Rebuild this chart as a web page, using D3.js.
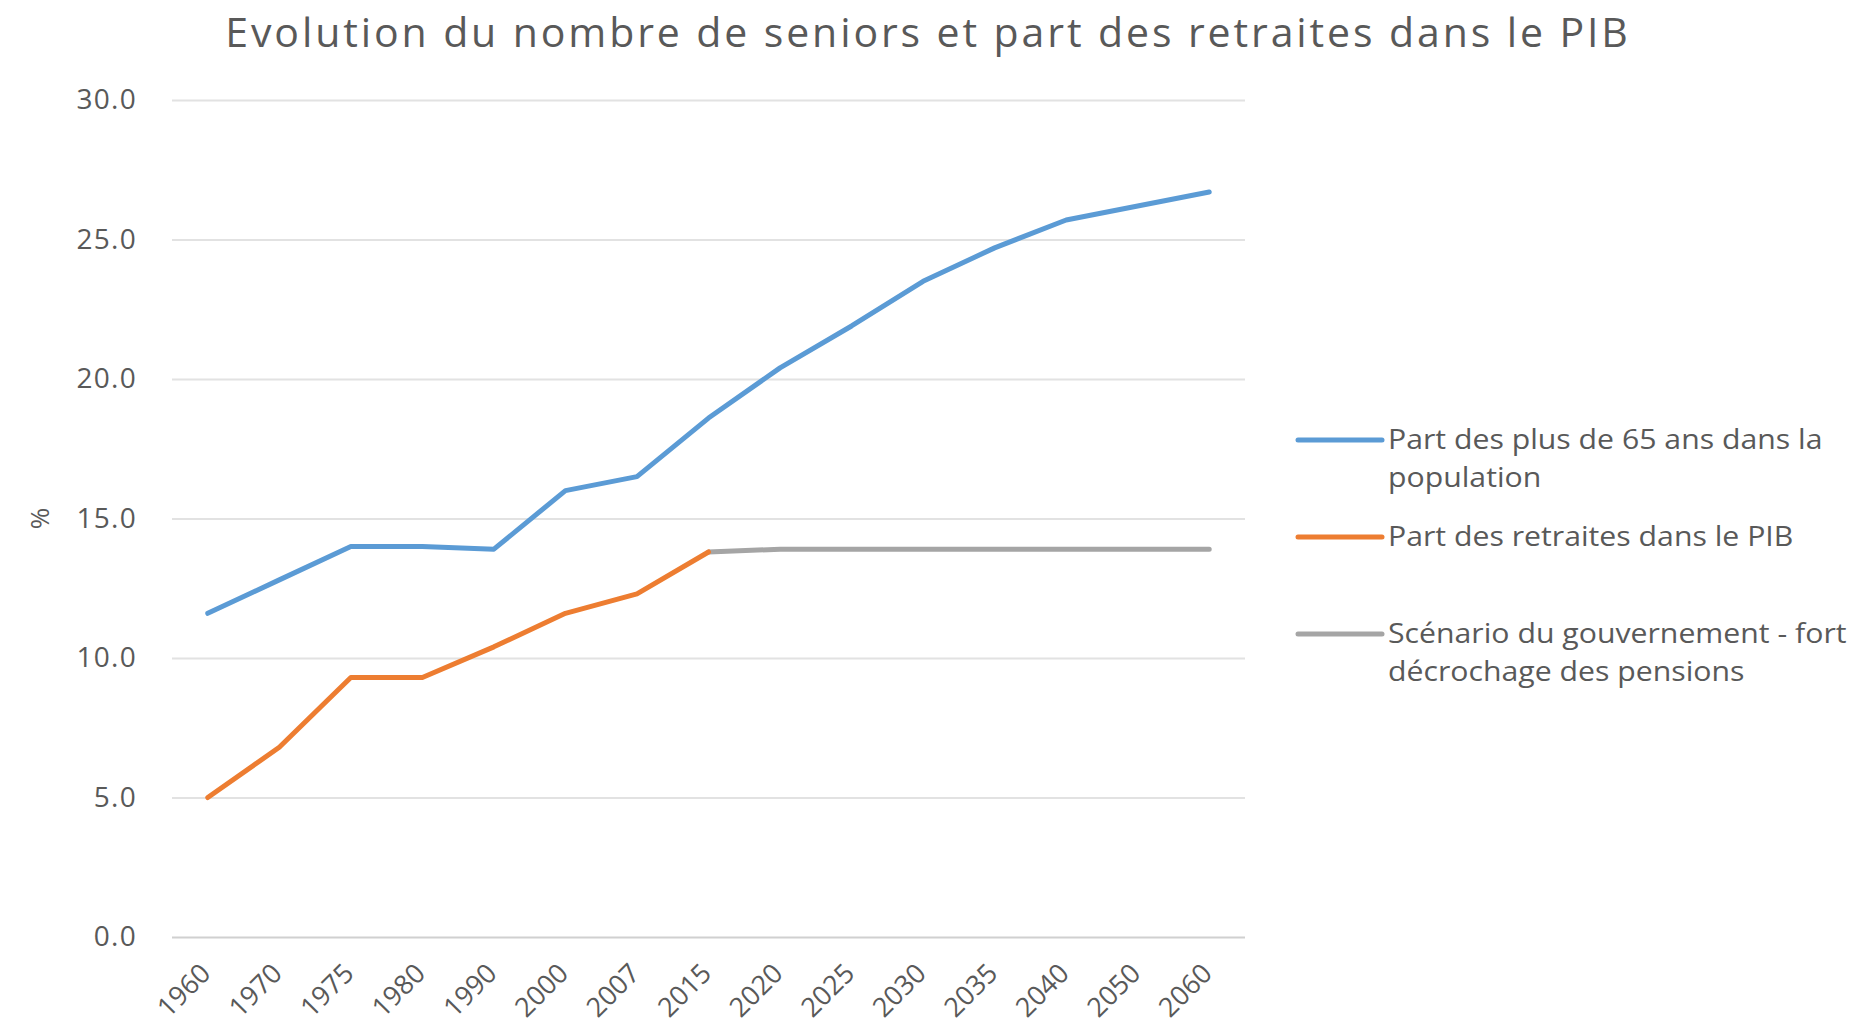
<!DOCTYPE html>
<html>
<head>
<meta charset="utf-8">
<script src="https://cdn.jsdelivr.net/npm/d3@7"></script>
<style>
  body { margin: 0; background: #fff; }
  svg text { font-family: "Open Sans", sans-serif; fill: #595959; }
</style>
</head>
<body>
<div id="chart"></div>
<script>
// data
var years = ["1960", "1970", "1975", "1980", "1990", "2000", "2007", "2015",
             "2020", "2025", "2030", "2035", "2040", "2050", "2060"];
var seniors = [11.6, 12.8, 14.0, 14.0, 13.9, 16.0, 16.5, 18.6,
               20.4, 21.9, 23.5, 24.7, 25.7, 26.2, 26.7];
var retraitesYears = ["1960", "1970", "1975", "1980", "1990", "2000", "2007", "2015"];
var retraites = [5.0, 6.8, 9.3, 9.3, 10.4, 11.6, 12.3, 13.8];
var scenarioYears = ["2015", "2020", "2025", "2030", "2035", "2040", "2050", "2060"];
var scenario = [13.8, 13.9, 13.9, 13.9, 13.9, 13.9, 13.9, 13.9];
var yTicks = [0, 5, 10, 15, 20, 25, 30];

var svgWidth = 1863;
var svgHeight = 1027;
var margin = { top: 100, right: 618, bottom: 90, left: 172 };
var width = svgWidth - margin.left - margin.right;
var height = svgHeight - margin.top - margin.bottom;

var svg = d3.select("#chart")
  .append("svg")
  .attr("width", svgWidth)
  .attr("height", svgHeight);

var chartGroup = svg.append("g")
  .attr("transform", `translate(${margin.left}, ${margin.top})`);

// scales
var xScale = d3.scalePoint()
  .domain(years)
  .range([0, width])
  .padding(0.5);

var yScale = d3.scaleLinear()
  .domain([0, 30])
  .range([height, 0]);

// gridlines + y labels
var leftAxis = d3.axisLeft(yScale)
  .tickValues(yTicks)
  .tickFormat(d3.format(".1f"))
  .tickSize(-width)
  .tickPadding(35);

var yAxis = chartGroup.append("g").call(leftAxis);
yAxis.select(".domain").remove();
yAxis.selectAll("line")
  .attr("stroke", d => d === 0 ? "#d0d0d0" : "#e2e2e2")
  .attr("stroke-width", 2);
yAxis.selectAll("text")
  .style("font-size", "28px")
  .style("letter-spacing", "1.3px")
  .style("fill", "#595959");

// x labels
var bottomAxis = d3.axisBottom(xScale).tickSize(0);
var xAxis = chartGroup.append("g")
  .attr("transform", `translate(0, ${height})`)
  .call(bottomAxis);
xAxis.select(".domain").remove();
xAxis.selectAll("text")
  .style("font-size", "27px")
  .style("fill", "#595959")
  .attr("text-anchor", "end")
  .attr("dy", null)
  .attr("y", 0)
  .attr("transform", "translate(4, 38) rotate(-45)");

// lines
var line = d3.line()
  .x(d => xScale(d[0]))
  .y(d => yScale(d[1]));

var series = [
  { name: "seniors", data: d3.zip(years, seniors), color: "#5b9bd5" },
  { name: "scenario", data: d3.zip(scenarioYears, scenario), color: "#a5a5a5" },
  { name: "retraites", data: d3.zip(retraitesYears, retraites), color: "#ed7d31" }
];

chartGroup.selectAll(".series")
  .data(series)
  .enter()
  .append("path")
  .attr("class", "series")
  .attr("d", d => line(d.data))
  .attr("fill", "none")
  .attr("stroke", d => d.color)
  .attr("stroke-width", 5)
  .attr("stroke-linejoin", "round")
  .attr("stroke-linecap", "round");

// title
svg.append("text")
  .attr("x", 928)
  .attr("y", 47)
  .attr("text-anchor", "middle")
  .style("font-size", "41px")
  .style("letter-spacing", "2.9px")
  .text("Evolution du nombre de seniors et part des retraites dans le PIB");

// y axis label
svg.append("text")
  .attr("transform", `translate(49, ${margin.top + height / 2}) rotate(-90)`)
  .attr("text-anchor", "middle")
  .style("font-size", "26px")
  .text("%");

// legend
var legendItems = [
  { color: "#5b9bd5", y: 440, lines: ["Part des plus de 65 ans dans la", "population"] },
  { color: "#ed7d31", y: 537, lines: ["Part des retraites dans le PIB"] },
  { color: "#a5a5a5", y: 634, lines: ["Scénario du gouvernement - fort", "décrochage des pensions"] }
];

var legend = svg.selectAll(".legend")
  .data(legendItems)
  .enter()
  .append("g")
  .attr("class", "legend")
  .attr("transform", d => `translate(1298, ${d.y})`);

legend.append("line")
  .attr("x1", 0)
  .attr("x2", 84)
  .attr("stroke", d => d.color)
  .attr("stroke-width", 5)
  .attr("stroke-linecap", "round");

legend.append("text")
  .attr("transform", "translate(90, 0) scale(1.12, 1)")
  .style("font-size", "27px")
  .selectAll("tspan")
  .data(d => d.lines)
  .enter()
  .append("tspan")
  .attr("x", 0)
  .attr("y", (d, i) => i * 38)
  .attr("dy", "0.35em")
  .text(d => d);
</script>
</body>
</html>
